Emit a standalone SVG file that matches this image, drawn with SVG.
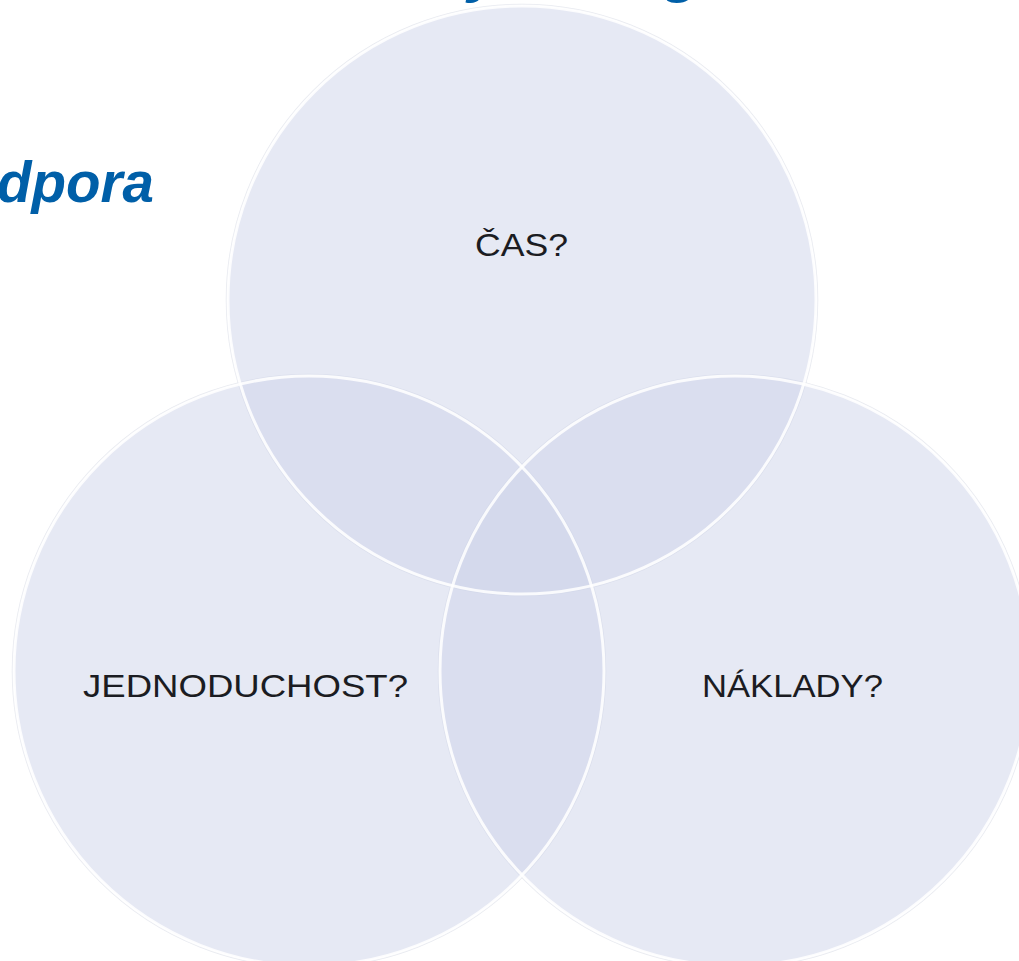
<svg xmlns="http://www.w3.org/2000/svg" width="1019" height="961" viewBox="0 0 1019 961">
  <style>
    .title { font-family: "Liberation Sans", Arial, sans-serif; font-weight: bold; font-style: italic; fill: #005fa8; }
    .circle { fill: rgb(205,211,233); fill-opacity: 0.5; }
    .edge { fill: none; stroke: #ffffff; stroke-width: 3; stroke-opacity: 0.85; }
    .shadow { fill: none; stroke: #d8dce6; stroke-width: 1.5; stroke-opacity: 0.6; }
    .label { font-family: "Liberation Sans", Arial, sans-serif; font-size: 31px; fill: #1b1c22; text-anchor: start; }
  </style>
  <rect width="1019" height="961" fill="#ffffff"/>
  <g id="title">
    <text class="title" x="468" y="-9" font-size="60">y</text>
    <text class="title" x="664" y="-9" font-size="60">g</text>
    <text class="title" x="-3" y="202" font-size="58" textLength="157" lengthAdjust="spacingAndGlyphs">dpora</text>
  </g>
  <g id="shadows">
    <circle class="shadow" cx="522" cy="300" r="295.5"/>
    <circle class="shadow" cx="309" cy="671" r="296.5"/>
    <circle class="shadow" cx="735" cy="671" r="296.5"/>
  </g>
  <g id="node-cas">
    <circle class="circle" cx="522" cy="300" r="294"/>
  </g>
  <g id="node-jednoduchost">
    <circle class="circle" cx="309" cy="671" r="295"/>
  </g>
  <g id="node-naklady">
    <circle class="circle" cx="735" cy="671" r="295"/>
  </g>
  <g id="edges">
    <circle class="edge" cx="522" cy="300" r="294"/>
    <circle class="edge" cx="309" cy="671" r="295"/>
    <circle class="edge" cx="735" cy="671" r="295"/>
  </g>
  <g id="labels">
    <text class="label" x="475" y="256" textLength="93" lengthAdjust="spacingAndGlyphs">ČAS?</text>
    <text class="label" x="83" y="697" textLength="325" lengthAdjust="spacingAndGlyphs">JEDNODUCHOST?</text>
    <text class="label" x="702" y="697" textLength="181" lengthAdjust="spacingAndGlyphs">NÁKLADY?</text>
  </g>
</svg>
